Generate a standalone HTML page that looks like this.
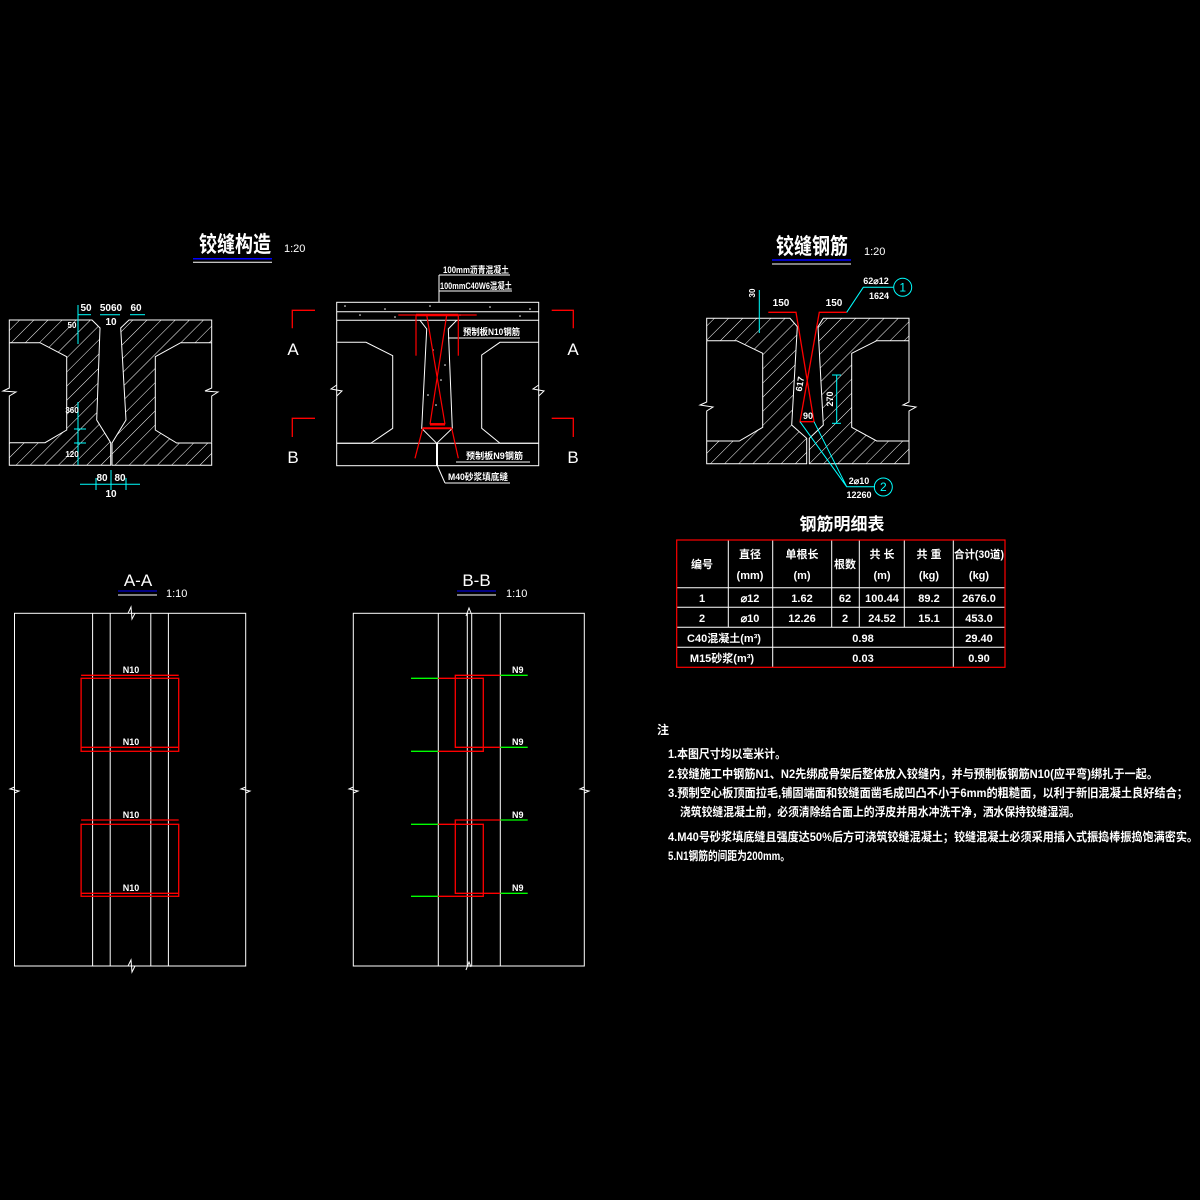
<!DOCTYPE html>
<html><head><meta charset="utf-8"><style>
html,body{margin:0;padding:0;background:#000;}
svg{display:block;}
text{font-family:"Liberation Sans","Noto Sans CJK SC",sans-serif;fill:#fff;}
</style></head><body>
<svg width="1200" height="1200" viewBox="0 0 1200 1200" xmlns="http://www.w3.org/2000/svg">
<defs>
<pattern id="h" patternUnits="userSpaceOnUse" width="10" height="10" patternTransform="rotate(45)">
<line x1="0" y1="0" x2="0" y2="10" stroke="#fff" stroke-width="1"/>
</pattern>
</defs>
<rect width="1200" height="1200" fill="#000"/>

<!-- ===== Top-left: 铰缝构造 ===== -->
<text x="199" y="252" font-size="22" textLength="72" lengthAdjust="spacingAndGlyphs" font-weight="bold">铰缝构造</text>
<line x1="193" y1="258.7" x2="272" y2="258.7" stroke="#00f" stroke-width="1.5"/>
<line x1="193" y1="262.3" x2="272" y2="262.3" stroke="#fff" stroke-width="1"/>
<text x="284" y="252" font-size="11">1:20</text>

<g fill="url(#h)" fill-rule="evenodd" stroke="none">
<path d="M9.3,320 L92,320 L100,328 L96.7,420 L110.7,442.7 L110.7,465.3 L9.3,465.3 Z M9.3,342.7 L40,342.7 L66.7,356.7 L66.7,430 L45,442.7 L9.3,442.7 Z"/>
<path d="M129,320 L211.7,320 L211.7,465.3 L112,465.3 L112,443 L126,420 L120.7,328 Z M211.7,342.7 L180.7,342.7 L155.3,356.7 L155.3,430 L176.7,443 L211.7,443 Z"/>
</g>
<g fill="none" stroke="#fff" stroke-width="1">
<path d="M9.3,342.7 L9.3,320 L92,320 L100,328 L96.7,420 L110.7,442.7 L110.7,465.3 L9.3,465.3 L9.3,442.7"/>
<path d="M9.3,342.7 L40,342.7 L66.7,356.7 L66.7,430 L45,442.7 L9.3,442.7"/>
<path d="M9.3,342.7 L9.3,388 L3,391 L16,392 L9.3,396 L9.3,442.7"/>
<path d="M211.7,342.7 L211.7,320 L129,320 L120.7,328 L126,420 L112,443 L112,465.3 L211.7,465.3 L211.7,443"/>
<path d="M211.7,342.7 L180.7,342.7 L155.3,356.7 L155.3,430 L176.7,443 L211.7,443"/>
<path d="M211.7,342.7 L211.7,388 L205,391 L218,392 L211.7,396 L211.7,442.7"/>
</g>
<g stroke="#0ff" stroke-width="1" fill="none">
<line x1="78" y1="305" x2="78" y2="344"/>
<line x1="78" y1="314.7" x2="91" y2="314.7"/>
<line x1="100" y1="314.7" x2="120" y2="314.7"/>
<line x1="130" y1="314.7" x2="145" y2="314.7"/>
<line x1="78" y1="402" x2="78" y2="465"/>
<line x1="74" y1="429" x2="86" y2="429"/>
<line x1="74" y1="443" x2="86" y2="443"/>
<line x1="80" y1="484.3" x2="140" y2="484.3"/>
<line x1="96" y1="478" x2="96" y2="490"/>
<line x1="126" y1="478" x2="126" y2="490"/>
<line x1="111" y1="470" x2="111" y2="490"/>
</g>
<g font-size="10" text-anchor="middle" font-weight="bold">
<text x="86" y="311">50</text><text x="111" y="311">5060</text><text x="136" y="311">60</text>
<text x="111" y="325">10</text>
<text x="72" y="328" font-size="8">50</text>
<text x="72" y="413" font-size="8">360</text>
<text x="72" y="457" font-size="8">120</text>
<text x="102" y="481">80</text><text x="120" y="481">80</text>
<text x="111" y="497">10</text>
</g>

<!-- ===== Top-middle ===== -->
<g stroke="#f00" stroke-width="1.3" fill="none">
<path d="M315,310.3 L292.3,310.3 L292.3,328.3"/>
<path d="M315,418.3 L292.3,418.3 L292.3,437"/>
<path d="M551.7,310.3 L573.3,310.3 L573.3,328.3"/>
<path d="M551.7,418.3 L573.3,418.3 L573.3,437"/>
</g>
<g font-size="17" text-anchor="middle">
<text x="293" y="355">A</text><text x="293" y="463">B</text>
<text x="573" y="355">A</text><text x="573" y="463">B</text>
</g>
<g fill="none" stroke="#fff" stroke-width="1">
<rect x="336.7" y="302.3" width="202" height="163.4"/>
<line x1="336.7" y1="311.7" x2="538.7" y2="311.7"/>
<line x1="336.7" y1="320.3" x2="538.7" y2="320.3"/>
<path d="M336.7,342.3 L366,342.3 L392.7,355.7 L392.7,428.3 L370.7,443.3 L336.7,443.3"/>
<path d="M336.7,385 L331,389 L342,391 L336.7,396"/>
<path d="M538.7,342.3 L500,342.3 L481.7,355 L481.7,428.3 L500,443.3 L538.7,443.3"/>
<path d="M538.7,385 L533,389 L544,391 L538.7,396"/>
<path d="M420,320.3 L426.7,329 L421.7,428.3 L436.7,443.3 L452.3,428.3 L448.3,329 L456.7,320.3"/>
<line x1="336.7" y1="443.3" x2="538.7" y2="443.3"/>
<line x1="437" y1="443.3" x2="437" y2="465.7" stroke-width="2"/>
<line x1="439" y1="275" x2="439" y2="302"/>
<line x1="439" y1="275" x2="510" y2="275"/>
<line x1="439" y1="291" x2="512" y2="291"/>
<line x1="448" y1="338" x2="520" y2="338"/>
<line x1="456" y1="462" x2="530" y2="462"/>
<line x1="437" y1="465" x2="445" y2="483"/>
<line x1="445" y1="483" x2="510" y2="483"/>
</g>
<g fill="#fff">
<circle cx="345" cy="306" r="0.8"/><circle cx="360" cy="315" r="0.8"/><circle cx="385" cy="309" r="0.8"/><circle cx="395" cy="317" r="0.8"/><circle cx="430" cy="306" r="0.8"/><circle cx="460" cy="315" r="0.8"/><circle cx="490" cy="307" r="0.8"/><circle cx="520" cy="316" r="0.8"/><circle cx="530" cy="309" r="0.8"/>
<circle cx="433" cy="350" r="0.8"/><circle cx="441" cy="380" r="0.8"/><circle cx="436" cy="405" r="0.8"/><circle cx="445" cy="365" r="0.8"/><circle cx="428" cy="395" r="0.8"/>
</g>
<g stroke="#f00" fill="none" stroke-width="1.2">
<line x1="398.3" y1="315" x2="476.7" y2="315"/>
<line x1="416" y1="315" x2="458.3" y2="315" stroke-width="2.5"/>
<line x1="416" y1="315" x2="416" y2="355.7"/>
<line x1="458.3" y1="315" x2="458.3" y2="355.7"/>
<line x1="426.7" y1="315" x2="445" y2="424.3"/>
<line x1="446.7" y1="315" x2="430" y2="424.3"/>
<line x1="430" y1="424.3" x2="445" y2="424.3" stroke-width="2.5"/>
<line x1="422.7" y1="428.3" x2="451.7" y2="428.3" stroke-width="2"/>
<line x1="422.7" y1="428.3" x2="415" y2="458.3"/>
<line x1="451.7" y1="428.3" x2="458.3" y2="458.3"/>
</g>
<g font-size="9" font-weight="bold">
<text x="443" y="273" textLength="66" lengthAdjust="spacingAndGlyphs">100mm沥青混凝土</text>
<text x="440" y="289" textLength="72" lengthAdjust="spacingAndGlyphs">100mmC40W6混凝土</text>
<text x="463" y="335" textLength="57" lengthAdjust="spacingAndGlyphs">预制板N10钢筋</text>
<text x="466" y="459" textLength="57" lengthAdjust="spacingAndGlyphs">预制板N9钢筋</text>
<text x="448" y="480" textLength="60" lengthAdjust="spacingAndGlyphs">M40砂浆填底缝</text>
</g>

<!-- ===== Top-right: 铰缝钢筋 ===== -->
<text x="776" y="254" font-size="22" textLength="72" lengthAdjust="spacingAndGlyphs" font-weight="bold">铰缝钢筋</text>
<line x1="772" y1="260" x2="851" y2="260" stroke="#00f" stroke-width="1.5"/>
<line x1="772" y1="264" x2="851" y2="264" stroke="#fff" stroke-width="1"/>
<text x="864" y="255" font-size="11">1:20</text>

<g fill="url(#h)" fill-rule="evenodd">
<path d="M706.7,318.3 L790,318.3 L797.3,326.7 L791.7,425 L806.7,438.3 L806.7,463.7 L706.7,463.7 Z M706.7,340.7 L736.7,340.7 L762.7,353.3 L762.7,427.3 L739.3,441 L706.7,441 Z"/>
<path d="M823.3,318.3 L909,318.3 L909,463.7 L809.3,463.7 L809.3,438.3 L823.3,425 L818,326.7 Z M909,340.7 L876.7,340.7 L851.7,353.3 L851.7,427.3 L876.7,441 L909,441 Z"/>
</g>
<g fill="none" stroke="#fff" stroke-width="1">
<path d="M706.7,340.7 L706.7,318.3 L790,318.3 L797.3,326.7 L791.7,425 L806.7,438.3 L806.7,463.7 L706.7,463.7 L706.7,441"/>
<path d="M706.7,340.7 L736.7,340.7 L762.7,353.3 L762.7,427.3 L739.3,441 L706.7,441"/>
<path d="M706.7,340.7 L706.7,402 L700,405 L713,407 L706.7,411 L706.7,441"/>
<path d="M909,340.7 L909,318.3 L823.3,318.3 L818,326.7 L823.3,425 L809.3,438.3 L809.3,463.7 L909,463.7 L909,441"/>
<path d="M909,340.7 L876.7,340.7 L851.7,353.3 L851.7,427.3 L876.7,441 L909,441"/>
<path d="M909,340.7 L909,402 L903,405 L916,407 L909,411 L909,441"/>
</g>
<g stroke="#f00" stroke-width="1.3" fill="none">
<path d="M768.3,312.3 L796,312.3 L814,421.7 L800,421.7 L819.3,312.3 L846.7,312.3"/>
</g>
<g stroke="#0ff" stroke-width="1" fill="none">
<line x1="759.3" y1="290" x2="759.3" y2="333"/>
<line x1="836.7" y1="375" x2="836.7" y2="423.3"/>
<line x1="832" y1="375" x2="841" y2="375"/>
<line x1="832" y1="423.3" x2="841" y2="423.3"/>
<path d="M846.7,312.3 L863.3,287.3 L893.3,287.3"/>
<circle cx="902.7" cy="287.3" r="9"/>
<path d="M800,421.7 L846.7,486.7 L875,486.7 M814,421.7 L846.7,486.7"/>
<circle cx="883.3" cy="487" r="9"/>
</g>
<g font-size="10" text-anchor="middle" font-weight="bold">
<text x="781" y="306">150</text><text x="834" y="306">150</text>
<text x="752" y="296" font-size="8" transform="rotate(-90 752 293)">30</text>
<text x="830" y="402" font-size="9" transform="rotate(-90 830 399)">270</text>
<text x="800" y="387" font-size="9" transform="rotate(-80 800 384)">617</text>
<text x="808" y="419" font-size="9">90</text>
<text x="876" y="284" font-size="9">62⌀12</text>
<text x="879" y="299" font-size="9">1624</text>
<text x="859" y="484" font-size="9">2⌀10</text>
<text x="859" y="498" font-size="9">12260</text>
</g>
<text x="902.7" y="291.5" font-size="12" style="fill:#0ff" text-anchor="middle">1</text>
<text x="883.3" y="491" font-size="12" style="fill:#0ff" text-anchor="middle">2</text>

<!-- ===== Table ===== -->
<text x="842" y="530" font-size="17" text-anchor="middle" font-weight="bold">钢筋明细表</text>
<g stroke="#fff" stroke-width="1" fill="none">
<line x1="728.3" y1="540" x2="728.3" y2="627.3"/>
<line x1="772.7" y1="540" x2="772.7" y2="667.3"/>
<line x1="831.7" y1="540" x2="831.7" y2="627.3"/>
<line x1="859.3" y1="540" x2="859.3" y2="627.3"/>
<line x1="904.3" y1="540" x2="904.3" y2="627.3"/>
<line x1="953.3" y1="540" x2="953.3" y2="667.3"/>
<line x1="676.7" y1="587.7" x2="1005" y2="587.7"/>
<line x1="676.7" y1="607.3" x2="1005" y2="607.3"/>
<line x1="676.7" y1="627.3" x2="1005" y2="627.3"/>
<line x1="676.7" y1="647.3" x2="1005" y2="647.3"/>
</g>
<rect x="676.7" y="540" width="328.3" height="127.3" fill="none" stroke="#f00" stroke-width="1.2"/>
<g font-size="11" text-anchor="middle" font-weight="bold">
<text x="702" y="568">编号</text>
<text x="750" y="558">直径</text><text x="750" y="579">(mm)</text>
<text x="802" y="558">单根长</text><text x="802" y="579">(m)</text>
<text x="845" y="568">根数</text>
<text x="882" y="558">共 长</text><text x="882" y="579">(m)</text>
<text x="929" y="558">共 重</text><text x="929" y="579">(kg)</text>
<text x="979" y="558" textLength="50" lengthAdjust="spacingAndGlyphs">合计(30道)</text><text x="979" y="579">(kg)</text>
<text x="702" y="602">1</text><text x="750" y="602">⌀12</text><text x="802" y="602">1.62</text><text x="845" y="602">62</text><text x="882" y="602">100.44</text><text x="929" y="602">89.2</text><text x="979" y="602">2676.0</text>
<text x="702" y="622">2</text><text x="750" y="622">⌀10</text><text x="802" y="622">12.26</text><text x="845" y="622">2</text><text x="882" y="622">24.52</text><text x="929" y="622">15.1</text><text x="979" y="622">453.0</text>
<text x="724" y="642">C40混凝土(m³)</text><text x="863" y="642">0.98</text><text x="979" y="642">29.40</text>
<text x="722" y="662">M15砂浆(m³)</text><text x="863" y="662">0.03</text><text x="979" y="662">0.90</text>
</g>

<!-- ===== Notes ===== -->
<g font-size="12" font-weight="bold">
<text x="657" y="734">注</text>
<text x="668" y="758" textLength="118" lengthAdjust="spacingAndGlyphs">1.本图尺寸均以毫米计。</text>
<text x="668" y="778" textLength="490" lengthAdjust="spacingAndGlyphs">2.铰缝施工中钢筋N1、N2先绑成骨架后整体放入铰缝内，并与预制板钢筋N10(应平弯)绑扎于一起。</text>
<text x="668" y="797" textLength="520" lengthAdjust="spacingAndGlyphs">3.预制空心板顶面拉毛,铺固端面和铰缝面凿毛成凹凸不小于6mm的粗糙面，以利于新旧混凝土良好结合；</text>
<text x="680" y="816" textLength="400" lengthAdjust="spacingAndGlyphs">浇筑铰缝混凝土前，必须清除结合面上的浮皮并用水冲洗干净，洒水保持铰缝湿润。</text>
<text x="668" y="841" textLength="530" lengthAdjust="spacingAndGlyphs">4.M40号砂浆填底缝且强度达50%后方可浇筑铰缝混凝土；铰缝混凝土必须采用插入式振捣棒振捣饱满密实。</text>
<text x="668" y="860" textLength="122" lengthAdjust="spacingAndGlyphs">5.N1钢筋的间距为200mm。</text>
</g>

<!-- ===== A-A ===== -->
<text x="138" y="586" font-size="17" text-anchor="middle">A-A</text>
<line x1="118" y1="591" x2="157" y2="591" stroke="#00f" stroke-width="1"/>
<line x1="118" y1="595" x2="157" y2="595" stroke="#fff" stroke-width="1"/>
<text x="166" y="597" font-size="11">1:10</text>
<g fill="none" stroke="#fff" stroke-width="1">
<rect x="14.5" y="613.3" width="231.2" height="352.7"/>
<line x1="92.6" y1="613.3" x2="92.6" y2="966"/>
<line x1="110.2" y1="613.3" x2="110.2" y2="966"/>
<line x1="150.8" y1="613.3" x2="150.8" y2="966"/>
<line x1="168.4" y1="613.3" x2="168.4" y2="966"/>
<path d="M128,613.3 L131,607 L132,619 L135,613.3"/>
<path d="M128,966 L131,960 L132,972 L135,966"/>
<path d="M14.5,787 L10,789 L19,791 L14.5,793"/>
<path d="M245.7,787 L241,789 L250,791 L245.7,793"/>
</g>
<g fill="none" stroke="#f00" stroke-width="1.3">
<line x1="81.1" y1="675.3" x2="178.7" y2="675.3"/>
<rect x="81.1" y="678.3" width="97.6" height="73"/>
<line x1="81.1" y1="747.3" x2="178.7" y2="747.3"/>
<line x1="81.1" y1="820" x2="178.7" y2="820"/>
<rect x="81.1" y="824.3" width="97.6" height="72"/>
<line x1="81.1" y1="893.3" x2="178.7" y2="893.3"/>
</g>
<g font-size="9" text-anchor="middle" font-weight="bold">
<text x="131" y="673">N10</text><text x="131" y="745">N10</text>
<text x="131" y="818">N10</text><text x="131" y="891">N10</text>
</g>

<!-- ===== B-B ===== -->
<text x="476.5" y="586" font-size="17" text-anchor="middle">B-B</text>
<line x1="457" y1="591" x2="496" y2="591" stroke="#00f" stroke-width="1"/>
<line x1="457" y1="595" x2="496" y2="595" stroke="#fff" stroke-width="1"/>
<text x="506" y="597" font-size="11">1:10</text>
<g fill="none" stroke="#fff" stroke-width="1">
<rect x="353.3" y="613.3" width="231" height="352.7"/>
<line x1="438.3" y1="613.3" x2="438.3" y2="966"/>
<line x1="467.3" y1="613.3" x2="467.3" y2="966"/>
<line x1="471.7" y1="613.3" x2="471.7" y2="966"/>
<line x1="500.3" y1="613.3" x2="500.3" y2="966"/>
<path d="M466,616 L469,608 L471,613"/>
<path d="M466,970 L469,962 L471,967"/>
<path d="M353.3,787 L349,789 L358,791 L353.3,793"/>
<path d="M584.3,787 L580,789 L589,791 L584.3,793"/>
</g>
<g fill="none" stroke-width="1.3">
<g stroke="#0f0">
<line x1="411" y1="678.3" x2="438.3" y2="678.3"/><line x1="411" y1="751.3" x2="438.3" y2="751.3"/>
<line x1="500.3" y1="675.3" x2="527.7" y2="675.3"/><line x1="500.3" y1="747.3" x2="527.7" y2="747.3"/>
<line x1="411" y1="824.3" x2="438.3" y2="824.3"/><line x1="411" y1="896.3" x2="438.3" y2="896.3"/>
<line x1="500.3" y1="820" x2="527.7" y2="820"/><line x1="500.3" y1="893.3" x2="527.7" y2="893.3"/>
</g>
<g stroke="#f00">
<path d="M438.3,678.3 L483.3,678.3 L483.3,751.3 L438.3,751.3"/>
<path d="M500.3,675.3 L455.3,675.3 L455.3,747.3 L500.3,747.3"/>
<path d="M438.3,824.3 L483.3,824.3 L483.3,896.3 L438.3,896.3"/>
<path d="M500.3,820 L455.3,820 L455.3,893.3 L500.3,893.3"/>
</g>
</g>
<g font-size="9" font-weight="bold">
<text x="512" y="673">N9</text><text x="512" y="745">N9</text>
<text x="512" y="818">N9</text><text x="512" y="891">N9</text>
</g>
</svg>
</body></html>
